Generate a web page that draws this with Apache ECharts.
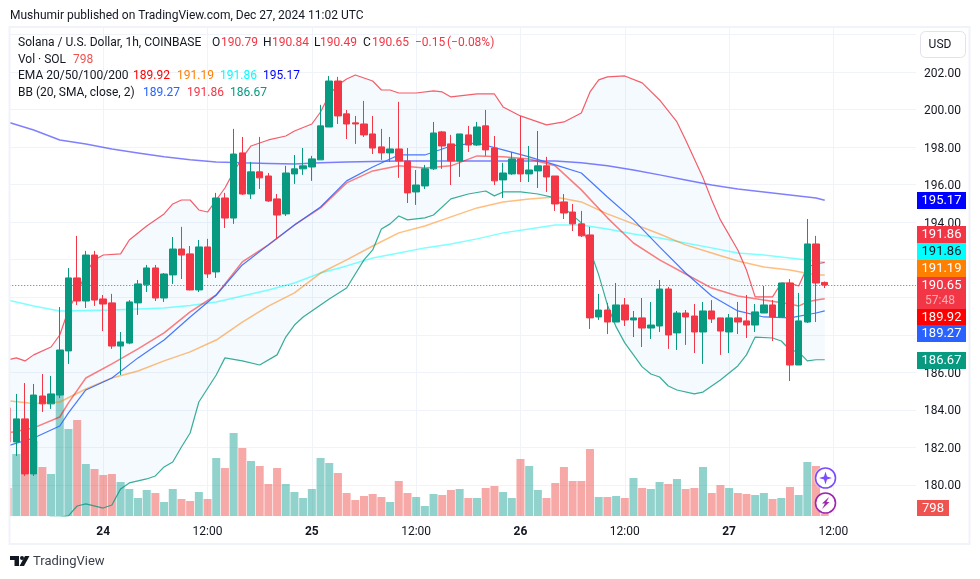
<!DOCTYPE html>
<html><head><meta charset="utf-8">
<style>html,body{margin:0;padding:0;background:#fff}#c{width:980px;height:579px}</style>
<script src="https://cdn.jsdelivr.net/npm/echarts@6/dist/echarts.min.js"></script>
</head><body><div id="c"></div>
<script>
const opens=[184.10,182.29,183.52,180.59,184.74,184.32,184.79,187.14,191.03,189.80,
192.25,189.91,189.70,187.40,187.56,189.70,190.66,191.56,189.96,191.19,
192.57,192.31,190.39,192.68,191.35,195.29,194.22,197.69,195.50,196.68,
196.46,195.24,194.44,196.57,196.84,196.94,197.32,199.07,201.52,199.77,
199.29,199.23,198.70,198.01,197.69,197.90,197.26,195.61,195.93,196.84,
198.81,198.17,197.26,198.65,198.11,199.13,197.95,196.25,196.57,197.37,
196.57,196.73,197.00,196.46,195.08,194.54,193.91,193.32,188.95,189.32,
188.68,189.59,188.79,188.90,188.36,188.47,190.44,188.10,189.16,189.00,
188.15,189.27,188.90,188.15,188.90,188.74,188.52,189.16,189.59,188.95,
190.76,186.39,188.68,192.84,190.79];
const closes=[182.29,183.52,180.59,184.79,184.32,184.85,187.19,191.03,189.80,192.25,
189.85,189.64,187.40,187.62,189.75,190.71,191.56,189.96,191.24,192.57,
192.25,190.39,192.68,191.24,195.29,194.22,197.63,195.50,196.68,196.36,
195.13,194.38,196.62,196.84,197.00,197.37,199.13,201.52,199.66,199.23,
199.23,198.65,197.95,197.69,197.90,197.26,195.56,195.98,196.84,198.75,
198.06,197.26,198.70,198.11,199.07,197.85,196.20,196.62,197.37,196.57,
196.78,197.00,196.41,194.97,194.49,193.91,193.27,188.90,189.32,188.68,
189.59,188.79,188.90,188.36,188.52,190.44,187.99,189.16,188.95,188.15,
189.27,188.84,188.20,188.90,188.68,188.52,189.22,189.59,188.95,190.76,
186.39,188.74,192.84,190.76,190.65];
const lows=[182.20,181.54,180.48,180.48,183.89,184.05,184.63,186.45,189.59,189.43,
189.54,188.20,187.25,185.86,187.50,189.06,190.28,189.80,189.75,190.71,
190.97,190.37,190.28,191.03,191.03,193.69,193.91,195.45,195.24,195.77,
195.08,193.11,194.33,196.04,196.52,196.20,197.32,199.07,199.23,198.43,
198.17,198.54,197.63,197.32,197.21,196.36,195.02,194.92,195.77,196.78,
196.84,195.98,196.41,197.74,198.06,197.53,195.98,195.29,196.52,196.14,
196.14,195.82,195.61,194.60,194.17,193.53,193.21,188.31,188.79,188.04,
188.68,188.47,187.88,187.35,187.78,188.15,187.25,187.19,187.46,187.03,
186.45,188.63,186.93,187.03,188.04,187.83,188.15,189.16,187.67,188.95,
185.54,186.39,188.63,188.68,190.49];
const highs=[184.20,184.85,185.43,185.38,185.91,185.81,189.48,191.56,193.27,192.47,
192.47,190.12,190.18,188.15,189.85,190.92,191.72,191.72,191.29,193.21,
193.75,192.73,193.05,193.11,195.56,195.56,198.97,198.54,197.21,198.54,
196.62,195.50,197.00,197.58,197.95,197.53,200.25,201.79,201.74,199.98,
199.66,200.46,199.66,198.97,198.54,200.41,197.95,196.78,197.05,199.34,
198.86,198.65,198.70,199.13,199.34,199.98,198.59,197.16,197.74,199.66,
198.06,198.86,197.48,196.46,195.50,194.97,194.60,193.75,190.18,189.70,
190.76,189.96,189.27,189.96,189.75,190.92,190.55,189.27,189.32,189.64,
189.75,189.85,188.90,189.11,189.75,190.12,189.64,190.60,189.85,190.76,
190.97,190.23,194.17,193.27,190.84];
const volumes=[8400,18600,18000,22500,14700,12600,36300,26100,28800,15600,14100,12300,12600,10200,8100,5400,7800,6900,4200,8100,5100,4500,7200,5100,17400,14400,24900,20400,16500,15000,9600,14400,9600,7200,5400,8100,17400,15900,12900,6900,4800,6000,6600,5700,4200,10500,6900,5700,3000,6600,6300,7800,8100,5400,5400,8400,9000,7200,5400,17100,15000,7800,5400,9900,14700,10500,10500,20100,5700,5700,6000,5400,11400,8400,8100,10200,9600,11100,8100,8400,14700,6900,9300,8400,6900,6600,6300,6900,5100,5400,8700,6300,16200,15000,798];

const ema200Idx=[0,3,6,9,12,15,18,21,24,27,30,33,36,39,45,51,57,63,66,69,72,75,78,81,84,87,90,93,94];
const ema200=[199.34,198.91,198.38,198.17,197.90,197.69,197.48,197.32,197.21,197.16,197.13,197.10,197.16,197.21,197.26,197.26,197.26,197.26,197.16,197.00,196.78,196.52,196.25,195.98,195.77,195.61,195.45,195.29,195.17];
const emaIdx=[0,3,6,9,12,15,18,21,24,27,30,33,36,39,42,45,48,51,54,57,60,63,66,69,72,75,78,81,84,87,90,93,94];
const ema100=[189.85,189.53,189.27,189.30,189.32,189.38,189.43,189.56,189.75,190.07,190.39,190.76,191.29,191.67,192.09,192.36,192.63,192.84,193.11,193.43,193.64,193.85,193.85,193.64,193.37,193.16,192.89,192.63,192.36,192.25,192.09,191.93,191.86];
const ema50=[184.48,184.34,184.42,185.11,185.70,186.07,186.61,187.09,187.72,188.68,189.53,190.23,191.29,191.99,192.73,193.43,193.80,194.28,194.76,195.08,195.24,195.34,195.08,194.44,193.91,193.37,192.79,192.36,191.93,191.61,191.45,191.19,191.19];
const ema20Idx=[0,3,6,7,9,12,15,18,21,24,27,30,33,36,39,42,45,48,51,54,57,60,63,66,69,72,75,78,81,84,87,90,91,92,93,94];
const ema20=[182.77,183.04,183.62,184.37,185.70,186.45,187.25,188.10,189.22,190.12,191.88,192.79,193.85,194.76,196.09,196.73,197.00,196.89,197.00,197.53,197.48,197.37,197.00,195.72,194.23,192.89,191.99,191.24,190.49,190.07,189.85,189.64,189.53,189.75,189.85,189.92];
const bbBasisIdx=[0,3,6,7,9,12,15,18,21,24,27,30,33,36,39,42,45,48,51,54,57,60,63,66,69,72,75,78,81,84,87,90,93,94];
const bbBasis=[182.08,182.50,183.14,183.84,185.06,185.70,186.77,187.72,188.95,190.12,191.72,192.79,193.85,194.81,196.20,196.94,197.58,197.58,198.06,198.22,197.85,197.48,197.05,196.62,195.34,194.12,192.68,191.29,190.07,189.27,188.95,188.90,189.16,189.27];
const bbUpper=[[0,186.66],[1,186.77],[2,186.61],[3,186.93],[5,187.35],[6,187.99],[7,189.32],[8,190.23],[9,191.29],[10,191.99],[11,192.25],[13,192.31],[14,193.05],[16,193.80],[18,194.44],[19,194.97],[20,195.18],[21,195.18],[22,194.65],[23,194.54],[24,195.18],[25,195.82],[26,196.68],[27,197.42],[28,198.06],[30,198.38],[32,198.59],[33,198.86],[35,199.23],[36,199.87],[37,200.78],[38,201.31],[39,201.63],[40,201.84],[41,201.68],[42,201.52],[43,201.04],[44,201.04],[45,200.88],[47,200.88],[49,200.99],[50,200.94],[51,200.67],[53,200.78],[54,200.83],[56,200.83],[57,200.14],[59,199.66],[61,199.34],[62,199.18],[64,199.34],[66,199.82],[67,200.94],[68,201.58],[69,201.74],[71,201.79],[73,201.42],[75,200.51],[77,199.34],[78,198.38],[80,196.36],[81,195.18],[82,194.12],[84,192.52],[85,191.45],[86,190.02],[88,190.02],[89,190.76],[90,190.76],[91,190.60],[92,191.61],[93,191.77],[94,191.86]];
const bbLower=[[0,177.39],[2,177.71],[3,178.08],[5,178.29],[6,178.29],[7,178.35],[8,178.88],[9,178.99],[11,178.77],[12,178.93],[13,179.79],[14,180.11],[16,180.32],[17,180.48],[18,180.96],[19,181.22],[20,182.02],[21,182.77],[22,184.42],[24,185.86],[25,186.77],[27,186.61],[29,186.39],[31,186.93],[32,187.88],[33,188.52],[34,188.95],[37,189.91],[39,190.49],[41,191.99],[42,192.52],[43,193.64],[44,193.91],[45,194.33],[46,194.12],[48,194.23],[49,194.38],[51,195.24],[53,195.50],[55,195.66],[56,195.40],[57,195.61],[59,195.61],[61,195.50],[63,195.29],[64,194.76],[66,193.96],[67,192.52],[68,191.19],[69,189.59],[70,188.42],[71,187.57],[73,186.29],[74,185.91],[75,185.75],[76,185.27],[77,185.06],[79,184.85],[80,184.95],[82,185.59],[84,186.34],[85,186.93],[86,187.88],[88,187.83],[89,187.67],[90,187.19],[91,187.09],[92,186.61],[93,186.67],[94,186.67]];

const tickLabels=['24','12:00','25','12:00','26','12:00','27','12:00'];
const FIRST_TICK=11, TICK_STEP=12, SLOTS=105, LAST_PRICE=190.65;
const categories=[];
for(let i=0;i<SLOTS;i++){const k=i-FIRST_TICK;categories.push(k>=0&&k%TICK_STEP===0&&tickLabels[k/TICK_STEP]!==undefined?'t'+k/TICK_STEP:'h'+i);}

const UP='#089981',DOWN='#F23645',VUP='rgba(38,166,154,.5)',VDOWN='rgba(239,83,80,.5)',TXT='#131722',GRID='#f0f3fa',FONT='Roboto, sans-serif';
const zip=(ix,v)=>ix.map((x,i)=>[x,v[i]]);
const lineS=(name,data,color,opacity,width)=>({name,type:'line',xAxisIndex:0,yAxisIndex:0,data,symbol:'none',silent:true,z:3,
  lineStyle:{color,opacity,width},animation:false});
const legendRows=[
 [['Solana / U.S. Dollar, 1h, COINBASE',18,TXT],['O',212,TXT],['190.79',221,DOWN],['H',263,TXT],['190.84',272,DOWN],['L',314,TXT],['190.49',320,DOWN],['C',363,TXT],['190.65',372,DOWN],['−0.15',415,DOWN],['(−0.08%)',447,DOWN]],
 [['Vol · SOL',18,TXT],['798',73,'#ef5350']],
 [['EMA 20/50/100/200',18,TXT],['189.92',133,'#ff0000'],['191.19',177,'#ff7f00'],['191.86',220,'#00ffff'],['195.17',263,'#0000ff']],
 [['BB (20, SMA, close, 2)',18,TXT],['189.27',143,'#2962FF'],['191.86',187,DOWN],['186.67',230,UP]]
];
const legendY=[43,60,76,93];
const tags=[['195.17',192,17,'#0000ff','#fff'],['191.86',226,17,DOWN,'#fff'],['191.86',243,17,'#00ffff','#131722'],['191.19',260,17,'#ff7f00','#fff'],['189.92',309,16,'#ff0000','#fff'],['189.27',325,17,'#2962FF','#fff'],['186.67',352,17,UP,'#fff']];

const g=[];
g.push({type:'rect',z:90,shape:{x:0,y:0,width:9,height:579},style:{fill:'#fff'},silent:true});
g.push({type:'rect',z:90,shape:{x:9,y:516.5,width:908,height:7},style:{fill:'#fff'},silent:true});
g.push({type:'rect',z:91,shape:{x:9.5,y:27,width:960,height:517},style:{fill:'none',stroke:GRID,lineWidth:2},silent:true});
g.push({type:'text',z:95,left:10,top:10,style:{text:'Mushumir published on TradingView.com, Dec 27, 2024 11:02 UTC',font:'12px '+FONT,fill:'#131722'}});
legendRows.forEach((r,ri)=>r.forEach(t=>g.push({type:'text',z:95,x:t[1],y:legendY[ri],style:{text:t[0],font:'12px '+FONT,fill:t[2],textVerticalAlign:'middle'}})));
g.push({type:'rect',z:95,shape:{x:920.5,y:31.5,width:45,height:26,r:5},style:{fill:'#fff',stroke:'#e0e3eb',lineWidth:1}});
g.push({type:'text',z:96,x:940,y:45,style:{text:'USD',font:'12px '+FONT,fill:TXT,textAlign:'center',textVerticalAlign:'middle'}});
tags.forEach(t=>{
 g.push({type:'rect',z:95,shape:{x:917,y:t[1],width:49,height:t[2]},style:{fill:t[3]}});
 g.push({type:'text',z:96,x:941.5,y:t[1]+t[2]/2+.5,style:{text:t[0],font:'13px '+FONT,fill:t[4],textAlign:'center',textVerticalAlign:'middle'}});
});
g.push({type:'rect',z:95,shape:{x:917,y:277,width:49,height:32},style:{fill:DOWN}});
g.push({type:'text',z:96,x:941.5,y:286,style:{text:'190.65',font:'13px '+FONT,fill:'#fff',textAlign:'center',textVerticalAlign:'middle'}});
g.push({type:'text',z:96,x:925,y:300.5,style:{text:'57:48',font:'12px '+FONT,fill:'rgba(255,255,255,.6)',textVerticalAlign:'middle'}});
g.push({type:'rect',z:95,shape:{x:917,y:500,width:32,height:16},style:{fill:'#ef5350'}});
g.push({type:'text',z:96,x:933,y:508.5,style:{text:'798',font:'13px '+FONT,fill:'#fff',textAlign:'center',textVerticalAlign:'middle'}});
g.push({type:'circle',z:95,shape:{cx:825.5,cy:478,r:10},style:{fill:'#fff',stroke:'#7c4dff',lineWidth:1.6,shadowColor:'#fff',shadowBlur:2}});
g.push({type:'polygon',z:96,shape:{points:[[825.5,471.5],[827,476.5],[832,478],[827,479.5],[825.5,484.5],[824,479.5],[819,478],[824,476.5]]},style:{fill:'#7c4dff'}});
g.push({type:'circle',z:95,shape:{cx:825.5,cy:503,r:10},style:{fill:'#fff',stroke:'#9c27b0',lineWidth:1.6}});
g.push({type:'polygon',z:96,shape:{points:[[829,497],[822,503.5],[825,503.5],[822,509],[829.5,502],[826.5,502]]},style:{fill:'#9c27b0'}});
g.push({type:'polygon',z:95,shape:{points:[[10,556],[19,556],[19,566],[14.5,566],[14.5,560],[10,560]]},style:{fill:'#131722'}});
g.push({type:'circle',z:95,shape:{cx:22,cy:558,r:2},style:{fill:'#131722'}});
g.push({type:'polygon',z:95,shape:{points:[[25,556],[29.5,556],[24,566],[19.5,566]]},style:{fill:'#131722'}});
g.push({type:'text',z:95,x:33,y:562,style:{text:'TradingView',font:'13px '+FONT,fill:'#3b3f4a',textVerticalAlign:'middle'}});

const chart=echarts.init(document.getElementById('c'),null,{renderer:'canvas'});
chart.setOption({
 animation:false,backgroundColor:'#fff',
 grid:[{left:3.25,right:64,top:34.46,bottom:56.5},{left:3.25,right:64,top:28,bottom:63}],
 xAxis:[
  {type:'category',gridIndex:0,data:categories,show:false,boundaryGap:true},
  {type:'category',gridIndex:1,data:categories,boundaryGap:true,
   axisLine:{show:false},axisTick:{show:false},
   splitLine:{show:true,alignWithLabel:true,lineStyle:{color:GRID,width:1},interval:(i,v)=>v[0]==='t'},
   axisLabel:{show:true,interval:(i,v)=>v[0]==='t',margin:10,color:TXT,fontFamily:FONT,fontSize:12,hideOverlap:false,
    formatter:v=>{const s=tickLabels[+v.slice(1)];return s.length<3?'{d|'+s+'}':s;},
    rich:{d:{fontWeight:'bold',fontSize:12,fontFamily:FONT,color:TXT}}}}
 ],
 yAxis:[
  {type:'value',gridIndex:0,position:'right',min:178,max:204,interval:2,axisLine:{show:false},axisTick:{show:false},
   splitLine:{show:true,showMinLine:false,lineStyle:{color:GRID,width:1}},
   axisLabel:{margin:8,color:TXT,fontFamily:FONT,fontSize:12,showMinLabel:false,showMaxLabel:false,formatter:v=>'{a|'+v.toFixed(2)+'}',
    rich:{a:{fontFamily:FONT,fontSize:12,color:TXT,padding:[3,0,0,0]}}}},
  {type:'value',gridIndex:1,min:0,max:146400,show:false,splitLine:{show:false}}
 ],
 graphic:{elements:g},
 series:[
  {type:'custom',name:'BB fill',xAxisIndex:0,yAxisIndex:0,clip:true,silent:true,z:1,data:[[0,190]],
   renderItem:(p,api)=>{
     const pts=bbUpper.concat(bbLower.slice().reverse()).map(d=>api.coord(d));
     return {type:'polygon',shape:{points:pts},style:{fill:'rgba(33,150,243,.05)'}};
   }},
  {type:'bar',name:'Vol',xAxisIndex:1,yAxisIndex:1,barWidth:8,silent:true,z:2,
   data:volumes.map((v,i)=>({value:v,itemStyle:{color:closes[i]>=opens[i]?VUP:VDOWN}}))},
  lineS('EMA200',zip(ema200Idx,ema200),'#0000ff',.5,1.5),
  lineS('EMA100',zip(emaIdx,ema100),'#00ffff',.5,1.5),
  lineS('EMA50',zip(emaIdx,ema50),'#ff7f00',.5,1.5),
  lineS('EMA20',zip(ema20Idx,ema20),'#ff0000',.5,1.5),
  lineS('BB basis',zip(bbBasisIdx,bbBasis),'#2962FF',.85,1.2),
  lineS('BB upper',bbUpper,'#F23645',.8,1.2),
  lineS('BB lower',bbLower,'#089981',.8,1.2),
  {type:'candlestick',name:'SOLUSD',xAxisIndex:0,yAxisIndex:0,z:5,barWidth:7,silent:true,
   itemStyle:{color:UP,color0:DOWN,borderColor:UP,borderColor0:DOWN,borderWidth:1},
   data:opens.map((o,i)=>[o,closes[i],lows[i],highs[i]]),
   markLine:{silent:true,symbol:'none',label:{show:false},animation:false,
    lineStyle:{color:DOWN,type:[1,2],width:1},data:[{yAxis:LAST_PRICE}]}}
 ]
});
</script></body></html>
